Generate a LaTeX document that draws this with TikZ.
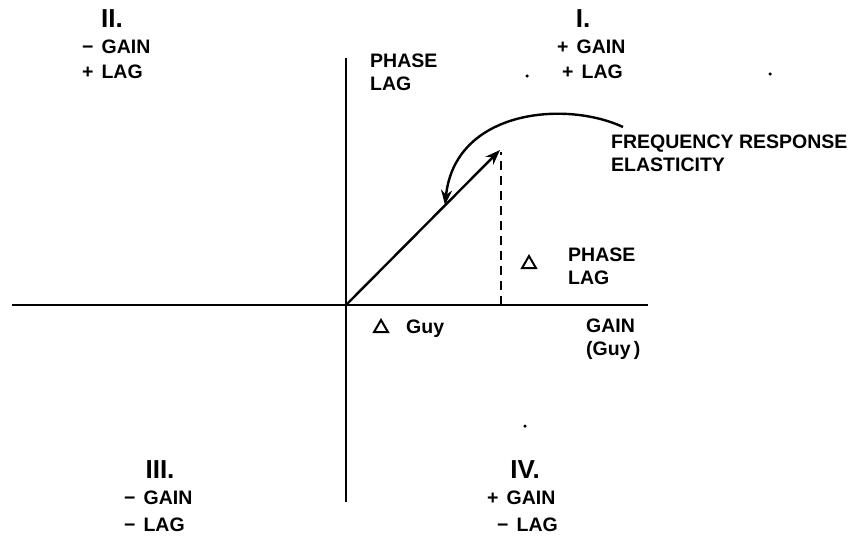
\documentclass[tikz,border=0pt]{standalone}
\usepackage{fontspec}
\setmainfont{Liberation Sans}
\usetikzlibrary{arrows.meta,shapes.geometric}
\tikzset{
  lbl/.style={inner sep=0pt, font=\fontsize{19.5}{23}\selectfont\bfseries, align=left},
  roman/.style={inner sep=0pt, font=\fontsize{26}{28}\selectfont\bfseries\rmfamily},
  axis/.style={line width=2.6pt},
  ink/.style={line width=2.4pt},
  tip/.style={-{Stealth[length=15pt,width=11pt]}},
  delta/.style={draw, regular polygon, regular polygon sides=3, line width=2pt, minimum size=16pt, inner sep=0pt},
  speck/.style={fill=black, circle, inner sep=0pt, minimum size=3.5pt}
}
\newcommand{\gp}{\hspace{8pt}}
\begin{document}
\begin{tikzpicture}[x=1pt,y=-1pt]
\useasboundingbox (0,0) rectangle (851,558);
% axes
\coordinate (vtop) at (346,58);
\coordinate (vbot) at (346,502);
\coordinate (hl) at (12,305);
\coordinate (hr) at (648,305);
\coordinate (o) at (346,305);
\coordinate (p) at (500,150);
\coordinate (pf) at (501,305);
\coordinate (pt) at (501,152);
\coordinate (as) at (623,127);
\coordinate (ae) at (445,205);
\draw[axis] (vtop) -- (vbot);
\draw[axis] (hl) -- (hr);
\draw[ink, tip] (o) -- (p);
\draw[ink, dash pattern=on 9pt off 6pt] (pf) -- (pt);
\draw[ink, tip] (as) .. controls (565,100) and (455,110) .. (ae);
% quadrant II
\node[roman] (q2) at (112,19) {II.};
\node[lbl, anchor=west] (q2g) at (82,47) {−\gp GAIN};
\node[lbl, anchor=west] (q2l) at (82,72) {+\gp LAG};
% axis label
\node[lbl, anchor=west] (pl) at (370,72) {PHASE\\LAG};
% quadrant I
\node[roman] (q1) at (583,19) {I.};
\node[lbl, anchor=west] (q1g) at (557,47) {+\gp GAIN};
\node[lbl, anchor=west] (q1l) at (562,72) {+\gp LAG};
% elasticity
\node[lbl, anchor=west] (fr) at (611,153) {FREQUENCY RESPONSE\\ELASTICITY};
% delta phase lag
\node[delta] (dt1) at (529,264) {};
\node[lbl, anchor=west] (dpl) at (568,266) {PHASE\\LAG};
% delta guy
\node[delta] (dt2) at (381,328) {};
\node[lbl, anchor=west] (dg) at (406,329) {Guy};
% gain axis label
\node[lbl, anchor=west] (gl) at (586,339) {GAIN\\(Guy\,)};
% quadrant III
\node[roman] (q3) at (160,470) {III.};
\node[lbl, anchor=west] (q3g) at (124,498) {−\gp GAIN};
\node[lbl, anchor=west] (q3l) at (124,525) {−\gp LAG};
% quadrant IV
\node[roman] (q4) at (525,470) {IV.};
\node[lbl, anchor=west] (q4g) at (487,498) {+\gp GAIN};
\node[lbl, anchor=west] (q4l) at (497,525) {−\gp LAG};
% specks
\node[speck] (s1) at (527,76) {};
\node[speck] (s2) at (770,74) {};
\node[speck] (s3) at (525,426) {};
\end{tikzpicture}
\end{document}
